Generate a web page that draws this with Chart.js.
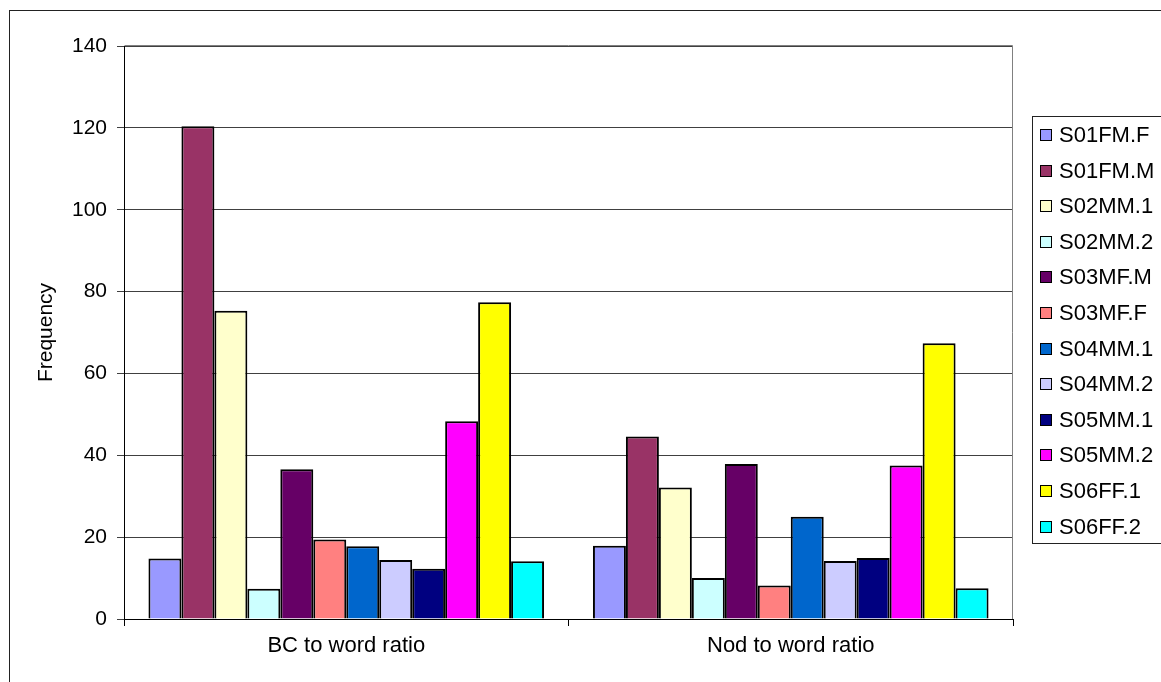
<!DOCTYPE html>
<html>
<head>
<meta charset="utf-8">
<script src="https://cdn.jsdelivr.net/npm/chart.js@4.4.0/dist/chart.umd.min.js"></script>
<style>
  body { margin: 0; background: #fff; }
  canvas { display: block; }
</style>
</head>
<body>
<canvas id="grafico" width="1161" height="682"></canvas>
<script>
const categorias = ["BC to word ratio", "Nod to word ratio"];

const S01FM_F = [14.8, 17.9];
const S01FM_M = [120.4, 44.6];
const S02MM_1 = [75.3, 32.1];
const S02MM_2 = [7.4, 10.0];
const S03MF_M = [36.6, 37.9];
const S03MF_F = [19.4, 8.2];
const S04MM_1 = [17.8, 25.0];
const S04MM_2 = [14.4, 14.2];
const S05MM_1 = [12.3, 14.9];
const S05MM_2 = [48.3, 37.5];
const S06FF_1 = [77.4, 67.4];
const S06FF_2 = [14.1, 7.5];

const series = [
  ["S01FM.F", S01FM_F, "#9999FF"],
  ["S01FM.M", S01FM_M, "#993366"],
  ["S02MM.1", S02MM_1, "#FFFFCC"],
  ["S02MM.2", S02MM_2, "#CCFFFF"],
  ["S03MF.M", S03MF_M, "#660066"],
  ["S03MF.F", S03MF_F, "#FF8080"],
  ["S04MM.1", S04MM_1, "#0066CC"],
  ["S04MM.2", S04MM_2, "#CCCCFF"],
  ["S05MM.1", S05MM_1, "#000080"],
  ["S05MM.2", S05MM_2, "#FF00FF"],
  ["S06FF.1", S06FF_1, "#FFFF00"],
  ["S06FF.2", S06FF_2, "#00FFFF"],
];

const fonte = "'Liberation Sans', Arial, sans-serif";

//moldura externa + borda cinza do plot
const moldura = {
  id: "moldura",
  beforeDraw(chart) {
    const ctx = chart.ctx;
    ctx.save();
    ctx.fillStyle = "#fff";
    ctx.fillRect(0, 0, chart.width, chart.height);
    ctx.strokeStyle = "#222";
    ctx.lineWidth = 1;
    ctx.strokeRect(9.5, 10.5, 1200, 700);
    ctx.restore();
  },
  afterDraw(chart) {
    const ctx = chart.ctx;
    const a = chart.chartArea;
    ctx.save();
    ctx.strokeStyle = "#808080";
    ctx.lineWidth = 1;
    ctx.beginPath();
    ctx.moveTo(Math.round(a.left) + 0.5, Math.round(a.top) - 0.5);
    ctx.lineTo(Math.round(a.right) - 0.5, Math.round(a.top) - 0.5);
    ctx.lineTo(Math.round(a.right) - 0.5, Math.round(a.bottom));
    ctx.stroke();
    ctx.restore();
  },
};

//legenda desenhada a partir dos datasets
const legenda = {
  id: "legenda",
  afterDraw(chart) {
    const ctx = chart.ctx;
    const ds = chart.data.datasets;
    ctx.save();
    ctx.strokeStyle = "#222";
    ctx.lineWidth = 1;
    ctx.strokeRect(1032.5, 116.5, 200, 427);
    ctx.font = "22px " + fonte;
    ctx.textBaseline = "middle";
    ds.forEach((d, i) => {
      const y = 135 + i * 35.6;
      ctx.fillStyle = d.backgroundColor;
      ctx.fillRect(1040, Math.round(y - 6), 12, 12);
      ctx.strokeStyle = "#000";
      ctx.strokeRect(1040.5, Math.round(y - 6) + 0.5, 11, 11);
      ctx.fillStyle = "#000";
      ctx.fillText(d.label, 1059, y + 1);
    });
    ctx.restore();
  },
};

new Chart(document.getElementById("grafico"), {
  type: "bar",
  data: {
    labels: categorias,
    datasets: series.map(([nome, valores, cor]) => ({
      label: nome,
      data: valores,
      backgroundColor: cor,
      borderColor: "#000",
      borderWidth: 2,
      categoryPercentage: 0.89,
      barPercentage: 1,
    })),
  },
  options: {
    responsive: false,
    animation: false,
    layout: {
      padding: { left: 0, top: 46, right: 148, bottom: 0 },
    },
    plugins: {
      legend: { display: false },
      tooltip: { enabled: false },
    },
    scales: {
      x: {
        afterFit(scale) {
          scale.height = 63;
        },
        grid: {
          drawOnChartArea: false,
          drawTicks: true,
          tickLength: 7,
          color: "#000",
        },
        border: { color: "#000" },
        ticks: {
          color: "#000",
          padding: 7,
          font: { family: fonte, size: 22 },
        },
      },
      y: {
        min: 0,
        max: 140,
        afterFit(scale) {
          scale.width = 124;
        },
        ticks: {
          stepSize: 20,
          color: "#000",
          padding: 10,
          font: { family: fonte, size: 21 },
        },
        grid: {
          color: "#404040",
          tickLength: 7,
        },
        border: { color: "#000" },
        title: {
          display: true,
          text: "Frequency",
          color: "#000",
          font: { family: fonte, size: 21 },
          padding: { top: 34 },
        },
      },
    },
  },
  plugins: [moldura, legenda],
});
</script>
</body>
</html>
